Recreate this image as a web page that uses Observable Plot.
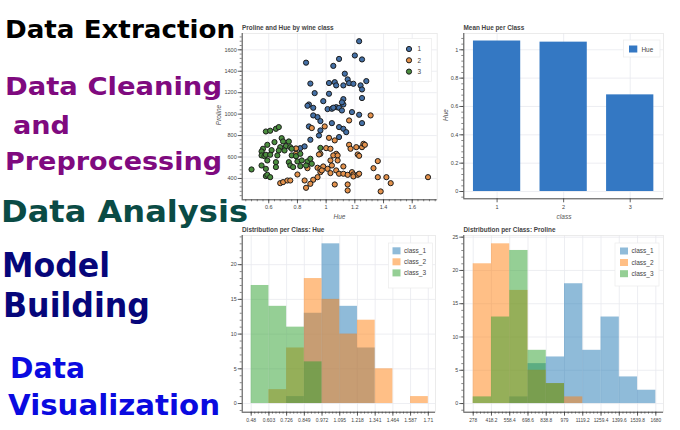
<!DOCTYPE html>
<html><head><meta charset="utf-8">
<script src="https://cdn.jsdelivr.net/npm/d3@7"></script>
<script src="https://cdn.jsdelivr.net/npm/@observablehq/plot@0.6"></script>
<style>
html,body{margin:0;padding:0;background:#fff;}
#wrap{position:relative;width:680px;height:430px;overflow:hidden;background:#fff;}
#wrap svg{position:absolute;}
</style></head><body><div id="wrap"></div>
<script>
// ---------- DATA ----------
const leftLabels = ["Data Extraction", "Data Cleaning", "and", "Preprocessing", "Data Analysis", "Model", "Building", "Data", "Visualization"];

const scatterTitle = "Proline and Hue by wine class";
const wineClasses = ["1", "2", "3"];
const class1Points = [[1.23,1680],[1.20,1547],[1.09,1515],[0.86,1480],[1.25,1510],[1.05,1450],[1.13,1377],[1.15,1324],[0.89,1285],[1.02,1290],[1.06,1298],[1.07,1268],[1.12,1268],[1.16,1289],[1.19,1283],[1.24,1268],[1.28,1308],[1.25,1230],[0.92,1196],[1.02,1190],[1.25,1150],[0.98,1121],[1.12,1140],[0.88,1090],[0.87,1078],[0.91,1059],[1.01,1047],[1.04,1050],[1.07,1065],[1.09,1059],[1.11,1034],[1.12,1090],[0.91,988],[0.94,972],[1.18,1019],[1.23,994],[0.96,935],[1.04,916],[1.25,916],[0.88,885],[1.09,879],[1.12,863],[1.14,832],[0.96,848],[0.95,801],[1.09,786],[0.89,761],[0.82,683],[0.85,699],[1.11,1110],[1.05,1060]];
const class2Points = [[0.90,870],[0.99,885],[1.31,988],[1.16,941],[1.02,779],[1.06,755],[1.00,683],[1.03,677],[0.96,630],[0.95,624],[1.07,630],[1.16,714],[1.21,692],[1.25,692],[1.26,723],[1.27,714],[1.22,624],[1.23,611],[1.17,677],[1.05,615],[1.08,615],[1.03,568],[1.08,568],[1.36,562],[1.33,496],[0.94,500],[0.96,490],[0.98,512],[1.01,490],[1.03,450],[1.04,521],[1.07,475],[1.09,444],[1.12,512],[1.12,444],[1.15,434],[1.18,459],[1.19,437],[1.19,419],[1.22,434],[1.23,444],[0.91,388],[0.94,412],[0.96,459],[0.97,475],[0.87,496],[0.80,437],[0.85,381],[0.89,350],[0.86,313],[0.68,356],[0.70,366],[0.73,381],[0.75,381],[1.06,344],[1.15,344],[1.15,288],[1.36,412],[1.42,412],[1.45,356],[1.38,279],[1.71,412],[0.79,630],[0.79,680]];
const class3Points = [[0.58,838],[0.61,845],[0.65,863],[0.67,879],[0.69,776],[0.70,745],[0.64,739],[0.59,714],[0.74,745],[0.56,677],[0.55,652],[0.62,664],[0.68,692],[0.72,702],[0.75,692],[0.76,677],[0.71,661],[0.67,661],[0.55,615],[0.57,608],[0.58,621],[0.61,621],[0.66,615],[0.76,615],[0.79,608],[0.82,630],[0.59,568],[0.55,521],[0.58,490],[0.65,552],[0.65,506],[0.74,552],[0.75,521],[0.80,559],[0.83,568],[0.87,559],[0.89,584],[0.90,537],[0.86,521],[0.82,515],[0.77,506],[0.58,422],[0.59,434],[0.61,412],[0.48,484],[0.96,685]];

const barTitle = "Mean Hue per Class";
const barClasses = [1, 2, 3];
const barMeanHue = [1.062, 1.054, 0.682];

const histClasses = ["class_1", "class_2", "class_3"];
const hueTitle = "Distribution per Class: Hue";
const hueEdges = [0.48, 0.603, 0.726, 0.849, 0.972, 1.095, 1.218, 1.341, 1.464, 1.587, 1.71];
const hueCountsClass1 = [0, 0, 1, 13, 23, 14, 8, 0, 0, 0];
const hueCountsClass2 = [0, 2, 8, 18, 15, 10, 12, 5, 0, 1];
const hueCountsClass3 = [17, 14, 11, 6, 0, 0, 0, 0, 0, 0];

const prolineTitle = "Distribution per Class: Proline";
const prolineEdges = [278, 418.2, 558.4, 698.6, 838.8, 979, 1119.2, 1259.4, 1399.6, 1539.8, 1680];
const prolineCountsClass1 = [0, 0, 1, 6, 7, 18, 8, 13, 4, 2];
const prolineCountsClass2 = [21, 24, 17, 5, 3, 1, 0, 0, 0, 0];
const prolineCountsClass3 = [1, 13, 23, 8, 3, 0, 0, 0, 0, 0];

// ---------- STYLE / LAYOUT ----------
const leftLayout = [
  {x: 5, y: 37.5, len: 230, size: 25, color: "#000000"},
  {x: 5, y: 95, len: 217, size: 25, color: "#7f0a7f"},
  {x: 13, y: 134, len: 57, size: 25, color: "#7f0a7f"},
  {x: 5, y: 170, len: 217, size: 25, color: "#7f0a7f"},
  {x: 1, y: 221.7, len: 247, size: 30, color: "#0a4b45"},
  {x: 2, y: 277, len: 108, size: 33, color: "#06067a"},
  {x: 3, y: 317, len: 147, size: 33, color: "#06067a"},
  {x: 10, y: 378, len: 75, size: 28, color: "#0a0ae0"},
  {x: 8, y: 415, len: 212, size: 29, color: "#0a0ae0"}
];
const pointColors = ["#4470a6", "#e3914b", "#4a8d3e"];
const histColors = ["#1f77b4", "#ff7f0e", "#2ca02c"];
const barColor = "#3478c3";
const FONT = "'Liberation Sans', Arial, sans-serif";
const gridColor = "#e9eaef";
const axisColor = "#3a3a3a";

const wrap = document.getElementById("wrap");
function place(svg, left, top) {
  svg.style.left = left + "px";
  svg.style.top = top + "px";
  wrap.appendChild(svg);
}
const fmt = d => String(+(+d).toFixed(2));
const baseStyle = {fontFamily: FONT, fontSize: "5.5px", color: "#444", background: "transparent", overflow: "visible"};

function axesMarks() {
  return [Plot.frame({stroke: "#e6e6e6", strokeWidth: 0.8})];
}
function gridMarks(ax) {
  return [
    Plot.gridX(ax.xMajor, {stroke: gridColor, strokeOpacity: 1, strokeWidth: 0.8}),
    Plot.gridY(ax.yMajor, {stroke: gridColor, strokeOpacity: 1, strokeWidth: 0.8})
  ];
}
function axisOverlay(ax) {
  return [
    Plot.ruleY([ax.yDom[0]], {stroke: axisColor, strokeWidth: 0.9}),
    Plot.ruleX([ax.xDom[0]], {stroke: axisColor, strokeWidth: 0.9}),
    Plot.axisX(ax.xMinor, {tickSize: 2, fill: "none", tickFormat: () => "", label: null, stroke: axisColor, strokeWidth: 0.6}),
    Plot.axisY(ax.yMinor, {tickSize: 2, fill: "none", tickFormat: () => "", label: null, stroke: axisColor, strokeWidth: 0.6}),
    Plot.axisX(ax.xMajor, {tickSize: 4, tickPadding: ax.xPad, tickFormat: ax.xFmt, fontSize: ax.xFont, label: null, stroke: axisColor, strokeWidth: 0.8, fill: "#444"}),
    Plot.axisY(ax.yMajor, {tickSize: 4, tickPadding: 1.5, tickFormat: ax.yFmt, fontSize: ax.yFont, label: null, stroke: axisColor, strokeWidth: 0.8, fill: "#444"})
  ];
}
const rangeStep = (a, b, s) => d3.range(Math.round((b - a) / s) + 1).map(i => +(a + i * s).toFixed(4));

// ---------- SCATTER ----------
{
  const rows = [];
  [class1Points, class2Points, class3Points].forEach((pts, k) =>
    pts.forEach(([h, p]) => rows.push({hue: h, proline: p, cls: wineClasses[k]})));
  const ax = {
    xMajor: [0.6, 0.8, 1, 1.2, 1.4, 1.6], xMinor: rangeStep(0.44, 1.76, 0.04),
    yMajor: [400, 600, 800, 1000, 1200, 1400, 1600], yMinor: rangeStep(240, 1720, 40),
    xDom: [0.415, 1.774], yDom: [201, 1752], xFmt: fmt, yFmt: fmt, xFont: 5.5, yFont: 5.5, xPad: 1.5
  };
  const svg = Plot.plot({
    width: 245, height: 210, marginLeft: 41.7, marginRight: 8.3, marginTop: 13, marginBottom: 30.7,
    x: {domain: ax.xDom}, y: {domain: ax.yDom},
    color: {domain: wineClasses, range: pointColors},
    style: baseStyle,
    marks: [
      ...gridMarks(ax), ...axesMarks(),
      Plot.dot(rows, {x: "hue", y: "proline", fill: "cls", r: 2.6, stroke: "#1d1d1d", strokeWidth: 1}),
      ...axisOverlay(ax)
    ]
  });
  place(svg, 200, 20);
}

// ---------- BAR ----------
{
  const rows = barClasses.map((c, i) => ({cls: c, hue: barMeanHue[i]}));
  const ax = {
    xMajor: barClasses, xMinor: [], yMajor: [0, 0.2, 0.4, 0.6, 0.8, 1], yMinor: rangeStep(-0.04, 1.08, 0.04),
    xDom: [0.5, 3.5], yDom: [-0.0515, 1.115], xFmt: fmt, yFmt: fmt, xFont: 5.5, yFont: 5.5, xPad: 2
  };
  const svg = Plot.plot({
    width: 235, height: 210, marginLeft: 18.3, marginRight: 17, marginTop: 13, marginBottom: 31.7,
    x: {domain: ax.xDom}, y: {domain: ax.yDom},
    style: baseStyle,
    marks: [
      ...gridMarks(ax), ...axesMarks(),
      Plot.rectY(rows, {x1: d => d.cls - 0.355, x2: d => d.cls + 0.355, y1: 0, y2: "hue", fill: barColor}),
      ...axisOverlay(ax)
    ]
  });
  place(svg, 445, 20);
}

// ---------- HISTOGRAMS ----------
function histRows(edges, countsList) {
  const rows = [];
  countsList.forEach((counts, k) => counts.forEach((c, i) => {
    if (c > 0) rows.push({x1: edges[i], x2: edges[i + 1], count: c, cls: histClasses[k]});
  }));
  return rows;
}
{
  const rows = histRows(hueEdges, [hueCountsClass1, hueCountsClass2, hueCountsClass3]);
  const step = (hueEdges[1] - hueEdges[0]) / 5;
  const ax = {
    xMajor: hueEdges, xMinor: d3.range(0, 51).map(i => +(hueEdges[0] + i * step).toFixed(4)),
    yMajor: [0, 5, 10, 15, 20], yMinor: rangeStep(-1, 24, 1),
    xDom: [0.4175, 1.76], yDom: [-1.25, 24.2], xFmt: d => String(d), yFmt: fmt, xFont: 5, yFont: 5.3, xPad: 2.5
  };
  const svg = Plot.plot({
    width: 245, height: 205, marginLeft: 41.7, marginRight: 10, marginTop: 10, marginBottom: 18.3,
    x: {domain: ax.xDom}, y: {domain: ax.yDom},
    color: {domain: histClasses, range: histColors},
    style: baseStyle,
    marks: [
      ...gridMarks(ax), ...axesMarks(),
      Plot.rectY(rows, {x1: "x1", x2: "x2", y1: 0, y2: "count", fill: "cls", fillOpacity: 0.5}),
      ...axisOverlay(ax)
    ]
  });
  place(svg, 200, 225);
}
{
  const rows = histRows(prolineEdges, [prolineCountsClass1, prolineCountsClass2, prolineCountsClass3]);
  const step = (prolineEdges[1] - prolineEdges[0]) / 5;
  const ax = {
    xMajor: prolineEdges, xMinor: d3.range(0, 51).map(i => +(prolineEdges[0] + i * step).toFixed(3)),
    yMajor: [0, 5, 10, 15, 20, 25], yMinor: rangeStep(-1, 25, 1),
    xDom: [205.8, 1739], yDom: [-1.3, 25.25], xFmt: d => String(d), yFmt: fmt, xFont: 4.8, yFont: 5.3, xPad: 2.5
  };
  const svg = Plot.plot({
    width: 235, height: 205, marginLeft: 18.3, marginRight: 17, marginTop: 10, marginBottom: 18.3,
    x: {domain: ax.xDom}, y: {domain: ax.yDom},
    color: {domain: histClasses, range: histColors},
    style: baseStyle,
    marks: [
      ...gridMarks(ax), ...axesMarks(),
      Plot.rectY(rows, {x1: "x1", x2: "x2", y1: 0, y2: "count", fill: "cls", fillOpacity: 0.5}),
      ...axisOverlay(ax)
    ]
  });
  place(svg, 445, 225);
}

// ---------- OVERLAY TEXT ----------
const ov = d3.select(wrap).append("svg").attr("width", 680).attr("height", 430)
  .style("left", "0px").style("top", "0px");

leftLabels.forEach((t, i) => {
  const L = leftLayout[i];
  ov.append("text").attr("x", L.x).attr("y", L.y)
    .attr("textLength", L.len).attr("lengthAdjust", "spacingAndGlyphs")
    .style("font-family", "'DejaVu Sans', Verdana, sans-serif").style("font-weight", "bold")
    .style("font-size", L.size + "px").attr("fill", L.color).text(t);
});

function label(x, y, t, opts = {}) {
  const el = ov.append("text").attr("x", x).attr("y", y).text(t)
    .style("font-family", FONT).style("font-size", (opts.size || 6.5) + "px")
    .attr("fill", opts.fill || "#444");
  if (opts.bold) el.style("font-weight", "bold");
  if (opts.italic) el.style("font-style", "italic");
  if (opts.anchor) el.attr("text-anchor", opts.anchor);
  if (opts.rotate) el.attr("transform", `rotate(-90 ${x} ${y})`);
  return el;
}
// titles
label(242, 29.5, scatterTitle, {bold: true, size: 6.4});
label(463.5, 29.5, barTitle, {bold: true, size: 6.4});
label(242, 231.5, hueTitle, {bold: true, size: 6.4});
label(463.5, 231.5, prolineTitle, {bold: true, size: 6.4});
// axis labels
label(339.5, 219, "Hue", {italic: true, size: 6.5, anchor: "middle", fill: "#555"});
label(221, 115, "Proline", {italic: true, size: 6.5, anchor: "middle", rotate: true, fill: "#555"});
label(564, 219, "class", {italic: true, size: 6.5, anchor: "middle", fill: "#555"});
label(447.5, 115, "Hue", {italic: true, size: 6.5, anchor: "middle", rotate: true, fill: "#555"});

// legends
function legendBox(x, y, w, h) {
  ov.append("rect").attr("x", x).attr("y", y).attr("width", w).attr("height", h)
    .attr("fill", "#fff").attr("fill-opacity", 0.95).attr("stroke", "#ececec").attr("stroke-width", 0.7);
}
legendBox(398.5, 38.5, 33, 43);
wineClasses.forEach((c, i) => {
  const cy = 49 + i * 11.3;
  ov.append("circle").attr("cx", 409).attr("cy", cy).attr("r", 2.6)
    .attr("fill", pointColors[i]).attr("stroke", "#1d1d1d").attr("stroke-width", 1);
  label(417.5, cy + 2.2, c, {size: 6.4, fill: "#444"});
});
legendBox(623.5, 40, 36.5, 17);
ov.append("rect").attr("x", 629).attr("y", 45.5).attr("width", 8.3).attr("height", 7).attr("fill", barColor);
label(641.5, 51.5, "Hue", {size: 6.4, fill: "#444"});

function histLegend(x, y, w, h, sx, tx, rowsY) {
  legendBox(x, y, w, h);
  histClasses.forEach((c, i) => {
    ov.append("rect").attr("x", sx).attr("y", rowsY[i] - 3.5).attr("width", 8).attr("height", 7)
      .attr("fill", histColors[i]).attr("fill-opacity", 0.5);
    label(tx, rowsY[i] + 2.2, c, {size: 6.5, fill: "#444"});
  });
}
histLegend(388.5, 243, 44, 45, 392.5, 404, [250.8, 261.8, 272.9]);
histLegend(615, 243, 44, 43, 620, 631.5, [251, 262.5, 273.7]);
</script>
</body></html>
